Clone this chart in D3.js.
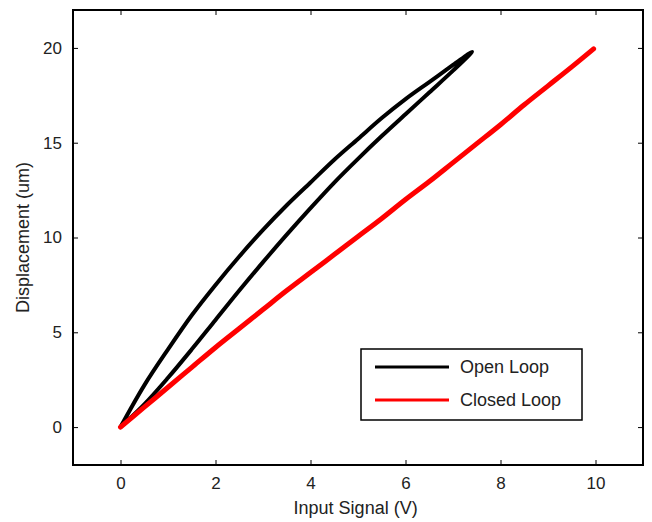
<!DOCTYPE html>
<html>
<head>
<meta charset="utf-8">
<script src="https://d3js.org/d3.v7.min.js"></script>
<style>
  body { margin: 0; background: #fff; }
  text { font-family: "Liberation Sans", Arial, sans-serif; }
</style>
</head>
<body>
<div id="vis"></div>
<script>
// data
// open loop: ascending branch (lower), then descending branch (upper)
const openUpV   = [0, 0.5, 1, 1.5, 2, 2.5, 3, 3.5, 4, 4.5, 5, 5.5, 6, 6.5, 7, 7.4];
const openUpU   = [0, 1.2, 2.6, 4.1, 5.65, 7.2, 8.7, 10.15, 11.55, 12.9, 14.15, 15.35, 16.5, 17.65, 18.8, 19.8];
const openDownV = [7.4, 7, 6.5, 6, 5.5, 5, 4.5, 4, 3.5, 3, 2.5, 2, 1.5, 1, 0.5, 0];
const openDownU = [19.8, 19.1, 18.2, 17.3, 16.3, 15.2, 14.1, 12.9, 11.7, 10.4, 9.0, 7.5, 5.9, 4.1, 2.2, 0];
// closed loop
const closedV = [0, 0.5, 1, 1.5, 2, 2.5, 3, 3.5, 4, 4.5, 5, 5.5, 6, 6.5, 7, 7.5, 8, 8.5, 9, 9.5, 9.96];
const closedU = [0, 1.05, 2.1, 3.15, 4.2, 5.2, 6.2, 7.2, 8.15, 9.1, 10.05, 11.0, 12.0, 12.95, 13.95, 14.95, 15.95, 17.0, 18.0, 19.0, 19.95];

const xTicks = [0, 2, 4, 6, 8, 10];
const yTicks = [0, 5, 10, 15, 20];
const seriesNames = ["Open Loop", "Closed Loop"];
const seriesColors = ["#000000", "#ff0000"];

const W = 652, H = 522;
const margin = {top: 10, left: 73, right: 9, bottom: 57};
const width = W - margin.left - margin.right,
      height = H - margin.top - margin.bottom;

const svg = d3.select('#vis')
  .append('svg')
  .attr('width', W)
  .attr('height', H);

const g = svg.append('g')
  .attr('transform', `translate(${margin.left},${margin.top})`);

const x = d3.scaleLinear().domain([-1, 11]).range([0, width]);
const y = d3.scaleLinear().domain([-2, 22]).range([height, 0]);

// axes: ticks point inward, mirrored on top/right
const tickLen = 5;
g.append('g')
  .attr('transform', `translate(0,${height})`)
  .call(d3.axisBottom(x).tickValues(xTicks).tickSize(-tickLen).tickPadding(12).tickFormat(d3.format('d')));
g.append('g')
  .call(d3.axisTop(x).tickValues(xTicks).tickSize(-tickLen).tickFormat(''));
g.append('g')
  .call(d3.axisLeft(y).tickValues(yTicks).tickSize(-tickLen).tickPadding(11).tickFormat(d3.format('d')));
g.append('g')
  .attr('transform', `translate(${width},0)`)
  .call(d3.axisRight(y).tickValues(yTicks).tickSize(-tickLen).tickFormat(''));

g.selectAll('.domain').remove();
g.selectAll('.tick line').attr('stroke', '#000').attr('stroke-width', 1);
g.selectAll('.tick text')
  .attr('font-size', 17)
  .attr('fill', '#222')
  .attr('font-family', '"Liberation Sans", Arial, sans-serif');

// frame
g.append('rect')
  .attr('width', width)
  .attr('height', height)
  .attr('fill', 'none')
  .attr('stroke', '#000')
  .attr('stroke-width', 2);

const line = d3.line()
  .x(d => x(d[0]))
  .y(d => y(d[1]))
  .curve(d3.curveCatmullRom);

const openPts = openUpV.map((v, i) => [v, openUpU[i]])
  .concat(openDownV.map((v, i) => [v, openDownU[i]]).slice(1));
const closedPts = closedV.map((v, i) => [v, closedU[i]]);

g.append('path')
  .datum(openPts)
  .attr('d', line)
  .attr('fill', 'none')
  .attr('stroke', seriesColors[0])
  .attr('stroke-width', 4)
  .attr('stroke-linejoin', 'round')
  .attr('stroke-linecap', 'round');

g.append('path')
  .datum(closedPts)
  .attr('d', line)
  .attr('fill', 'none')
  .attr('stroke', seriesColors[1])
  .attr('stroke-width', 5)
  .attr('stroke-linejoin', 'round')
  .attr('stroke-linecap', 'round');

// axis titles
svg.append('text')
  .attr('x', margin.left + x(4.95))
  .attr('y', 514)
  .attr('text-anchor', 'middle')
  .attr('font-size', 18)
  .attr('fill', '#222')
  .text('Input Signal (V)');

svg.append('text')
  .attr('transform', `translate(29,${margin.top + y(10)}) rotate(-90)`)
  .attr('text-anchor', 'middle')
  .attr('font-size', 18)
  .attr('fill', '#222')
  .text('Displacement (um)');

// legend
const legend = svg.append('g').attr('transform', 'translate(361,349)');
legend.append('rect')
  .attr('width', 221)
  .attr('height', 71)
  .attr('fill', '#fff')
  .attr('stroke', '#000')
  .attr('stroke-width', 1.5);

const item = legend.selectAll('g')
  .data(seriesNames)
  .join('g')
  .attr('transform', (d, i) => `translate(0,${18 + i * 33})`);

item.append('line')
  .attr('x1', 14)
  .attr('x2', 88)
  .attr('stroke', (d, i) => seriesColors[i])
  .attr('stroke-width', 3);

item.append('text')
  .attr('x', 99)
  .attr('dy', '0.35em')
  .attr('font-size', 18)
  .attr('fill', '#222')
  .text(d => d);
</script>
</body>
</html>
